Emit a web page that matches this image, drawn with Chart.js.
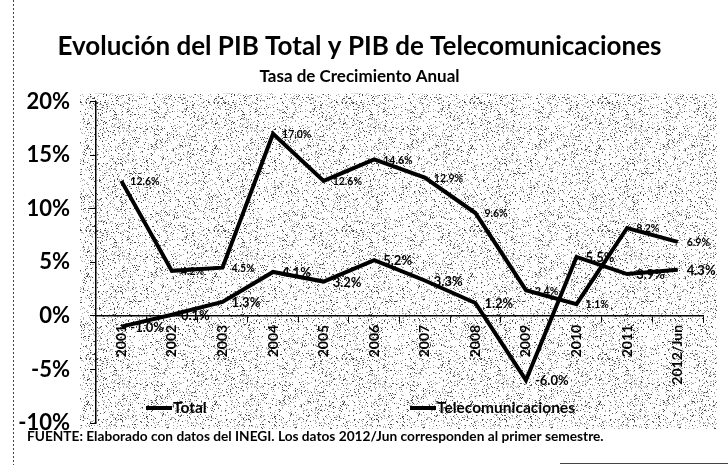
<!DOCTYPE html>
<html>
<head>
<meta charset="utf-8">
<script src="https://cdn.jsdelivr.net/npm/chart.js@4.4.0/dist/chart.umd.min.js"></script>
<style>
  html, body { margin: 0; padding: 0; background: #fff; }
</style>
</head>
<body>
<canvas id="myChart" width="728" height="465"></canvas>
<script>
const years = ['2001', '2002', '2003', '2004', '2005', '2006', '2007', '2008', '2009', '2010', '2011', '2012/Jun'];
const totalPib = [-1.0, 0.1, 1.3, 4.1, 3.2, 5.2, 3.3, 1.2, -6.0, 5.5, 3.9, 4.3];
const telecomPib = [12.6, 4.2, 4.5, 17.0, 12.6, 14.6, 12.9, 9.6, 2.4, 1.1, 8.2, 6.9];
const yTickValues = [-10, -5, 0, 5, 10, 15, 20];

const FONT = 'Lato, "Open Sans", sans-serif';

// grainy grey texture like the scanned original
function makeSpeckle(ctx) {
    const c = document.createElement('canvas');
    c.width = 128; c.height = 128;
    const g = c.getContext('2d');
    g.fillStyle = '#ffffff';
    g.fillRect(0, 0, 128, 128);
    let s = 12345;
    const next = () => (s = (s * 16807) % 2147483647);
    for (let i = 0; i < 2800; i++) {
        const x = next() % 128;
        const y = next() % 128;
        g.fillStyle = next() % 3 === 0 ? '#444444' : '#aaaaaa';
        g.fillRect(x, y, 1, 1);
    }
    return ctx.createPattern(c, 'repeat');
}

const backdrop = {
    id: 'backdrop',
    beforeDraw(chart) {
        const { ctx, chartArea: a } = chart;
        ctx.save();
        ctx.fillStyle = makeSpeckle(ctx);
        ctx.fillRect(a.left - 16, a.top - 8, a.right - a.left + 30, a.bottom - a.top + 14);
        // frame bits
        ctx.strokeStyle = '#444';
        ctx.lineWidth = 1;
        ctx.setLineDash([2, 2]);
        ctx.beginPath();
        ctx.moveTo(13.5, 0);
        ctx.lineTo(13.5, 465);
        ctx.stroke();
        ctx.setLineDash([]);
        ctx.beginPath();
        ctx.moveTo(560, 463.5);
        ctx.lineTo(728, 463.5);
        ctx.stroke();
        ctx.restore();
    }
};

const pointLabels = {
    id: 'pointLabels',
    afterDatasetsDraw(chart) {
        const { ctx } = chart;
        ctx.save();
        ctx.fillStyle = '#000';
        ctx.textBaseline = 'middle';
        ctx.textAlign = 'left';
        chart.data.datasets.forEach((ds, i) => {
            const meta = chart.getDatasetMeta(i);
            ctx.font = 'bold ' + ds.labelSize + 'px ' + FONT;
            meta.data.forEach((pt, j) => {
                const v = ds.data[j];
                ctx.fillText(v.toFixed(1) + '%', pt.x + 9, pt.y + 1);
            });
        });
        ctx.restore();
    }
};

const extras = {
    id: 'extras',
    afterDraw(chart) {
        const { ctx, chartArea: a } = chart;
        ctx.save();
        // legend inside plot
        const ly = a.bottom - 15;
        const spots = [a.left + 50, a.left + 314];
        chart.data.datasets.forEach((ds, i) => {
            const x = spots[i];
            ctx.strokeStyle = '#000';
            ctx.lineWidth = 4;
            ctx.beginPath();
            ctx.moveTo(x, ly);
            ctx.lineTo(x + 26, ly);
            ctx.stroke();
            ctx.fillStyle = '#000';
            ctx.font = 'bold 15.5px ' + FONT;
            ctx.textBaseline = 'middle';
            ctx.fillText(ds.label, x + 27, ly);
        });
        // source note
        ctx.font = 'bold 13.7px ' + FONT;
        ctx.textBaseline = 'middle';
        ctx.fillText('FUENTE: Elaborado con datos del INEGI. Los datos 2012/Jun corresponden al primer semestre.', 27, 437);
        ctx.restore();
    }
};

var ctx = document.getElementById('myChart');

var myChart = new Chart(ctx, { // eslint-disable-line
    type: 'line',
    data: {
        labels: years,
        datasets: [
            {
                label: 'Total',
                data: totalPib,
                borderColor: '#000',
                borderWidth: 4,
                pointRadius: 0,
                labelSize: 13
            },
            {
                label: 'Telecomunicaciones',
                data: telecomPib,
                borderColor: '#000',
                borderWidth: 4,
                pointRadius: 0,
                labelSize: 10.5
            }
        ]
    },
    options: {
        responsive: false,
        animation: false,
        layout: { padding: { left: 16, right: 25, top: 0, bottom: 42 } },
        plugins: {
            legend: { display: false },
            tooltip: { enabled: false },
            title: {
                display: true,
                text: 'Evolución del PIB Total y PIB de Telecomunicaciones',
                color: '#000',
                font: { family: FONT, size: 26, weight: 'bold' },
                padding: { top: 31, bottom: 2 }
            },
            subtitle: {
                display: true,
                text: 'Tasa de Crecimiento Anual',
                color: '#000',
                font: { family: FONT, size: 17, weight: 'bold' },
                padding: { top: 2, bottom: 15 }
            }
        },
        scales: {
            x: {
                position: { y: 0 },
                offset: true,
                grid: { display: true, drawOnChartArea: false, color: '#000', tickLength: 6, offset: true },
                border: { color: '#000', width: 1.5 },
                ticks: {
                    color: '#000',
                    minRotation: 90,
                    maxRotation: 90,
                    autoSkip: false,
                    padding: 3,
                    font: { family: FONT, size: 14, weight: 'bold' }
                }
            },
            y: {
                min: -10,
                max: 20,
                afterFit: (s) => { s.width = 80; },
                afterBuildTicks: (s) => { s.ticks = yTickValues.map(v => ({ value: v })); },
                grid: { display: true, drawOnChartArea: false, color: '#000', tickLength: 6 },
                border: { color: '#000', width: 1.5 },
                ticks: {
                    color: '#000',
                    padding: 20,
                    font: { family: FONT, size: 22, weight: 'bold' },
                    callback: v => v + '%'
                }
            }
        }
    },
    plugins: [backdrop, pointLabels, extras]
});
</script>
</body>
</html>
